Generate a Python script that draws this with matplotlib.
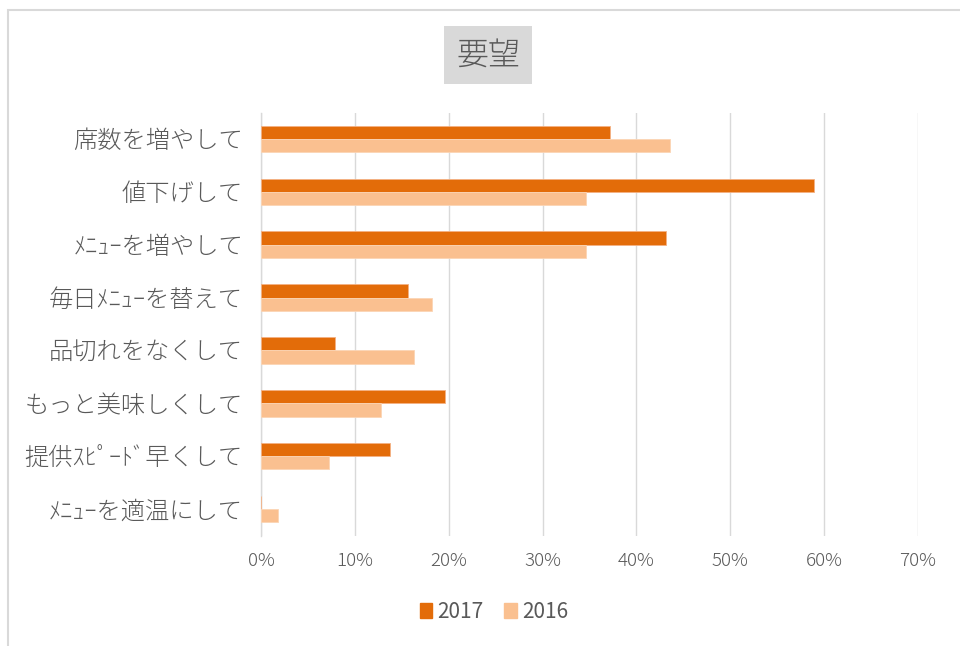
import matplotlib
matplotlib.use("Agg")
import matplotlib.pyplot as plt
from matplotlib.patches import Rectangle, Patch
import numpy as np

plt.rcParams['font.family'] = ['Noto Sans CJK JP', 'DejaVu Sans']

categories = ["席数を増やして", "値下げして", "ﾒﾆｭｰを増やして", "毎日ﾒﾆｭｰを替えて",
              "品切れをなくして", "もっと美味しくして", "提供ｽﾋﾟｰﾄﾞ早くして", "ﾒﾆｭｰを適温にして"]
values_2017 = [37.2, 58.9, 43.1, 15.7, 7.9, 19.6, 13.7, 0.0]
values_2016 = [43.6, 34.6, 34.6, 18.2, 16.3, 12.8, 7.2, 1.8]
xticks = [0, 10, 20, 30, 40, 50, 60, 70]
series_names = ["2017", "2016"]

c2017 = "#E36C09"
c2016 = "#FAC090"
txt = "#595959"
grid = "#D9D9D9"

W, H = 960, 646
fig = plt.figure(figsize=(W / 100, H / 100), dpi=100)

# chart border (left/top visible)
fig.add_artist(Rectangle((8 / W, -0.05), 1.2, 1 - 10 / H + 0.05, transform=fig.transFigure,
                         fill=False, edgecolor=grid, linewidth=1.5))

left, right = 261, 918
top, bottom = 112.5, 535.5
ax = fig.add_axes([left / W, 1 - bottom / H, (right - left) / W, (bottom - top) / H])

n = len(categories)
y = np.arange(n)
h = 0.25
ax.barh(y - h / 2, values_2017, height=h, color=c2017, edgecolor="#F4B183", linewidth=0.6, label=series_names[0], zorder=3)
ax.barh(y + h / 2, values_2016, height=h, color=c2016, edgecolor="#FBD5B5", linewidth=0.6, label=series_names[1], zorder=3)

ax.set_xlim(0, 70)
ax.set_ylim(n - 0.5, -0.5)
ax.set_xticks(xticks)
ax.set_xticklabels([f"{t}%" for t in xticks], color=txt, fontsize=13.5, fontweight='light')
ax.set_yticks(y)
ax.set_yticklabels(categories, color=txt, fontsize=17.5, fontweight='light')
ax.tick_params(axis='both', length=0)
ax.tick_params(axis='x', pad=12)
ax.tick_params(axis='y', pad=13)
ax.grid(axis='x', color=grid, linewidth=1, zorder=0)
for s in ["top", "right", "bottom"]:
    ax.spines[s].set_visible(False)
ax.spines["left"].set_color(grid)
ax.spines["left"].set_linewidth(1)

fig.text(488 / W, 1 - 55 / H, "要望", ha="center", va="center", fontsize=23, color=txt, fontweight='light',
         bbox=dict(boxstyle="square,pad=0.38", facecolor="#D9D9D9", edgecolor="none"))

handles = [Patch(color=c2017, label=series_names[0]), Patch(color=c2016, label=series_names[1])]
leg = fig.legend(handles=handles, loc="center", bbox_to_anchor=(494 / W, 1 - 612 / H), ncol=2,
           frameon=False, fontsize=15, handlelength=0.6, handleheight=0.7, handletextpad=0.25,
           columnspacing=1.0, labelcolor=txt)

fig.savefig("out.png", dpi=100, facecolor="white")
